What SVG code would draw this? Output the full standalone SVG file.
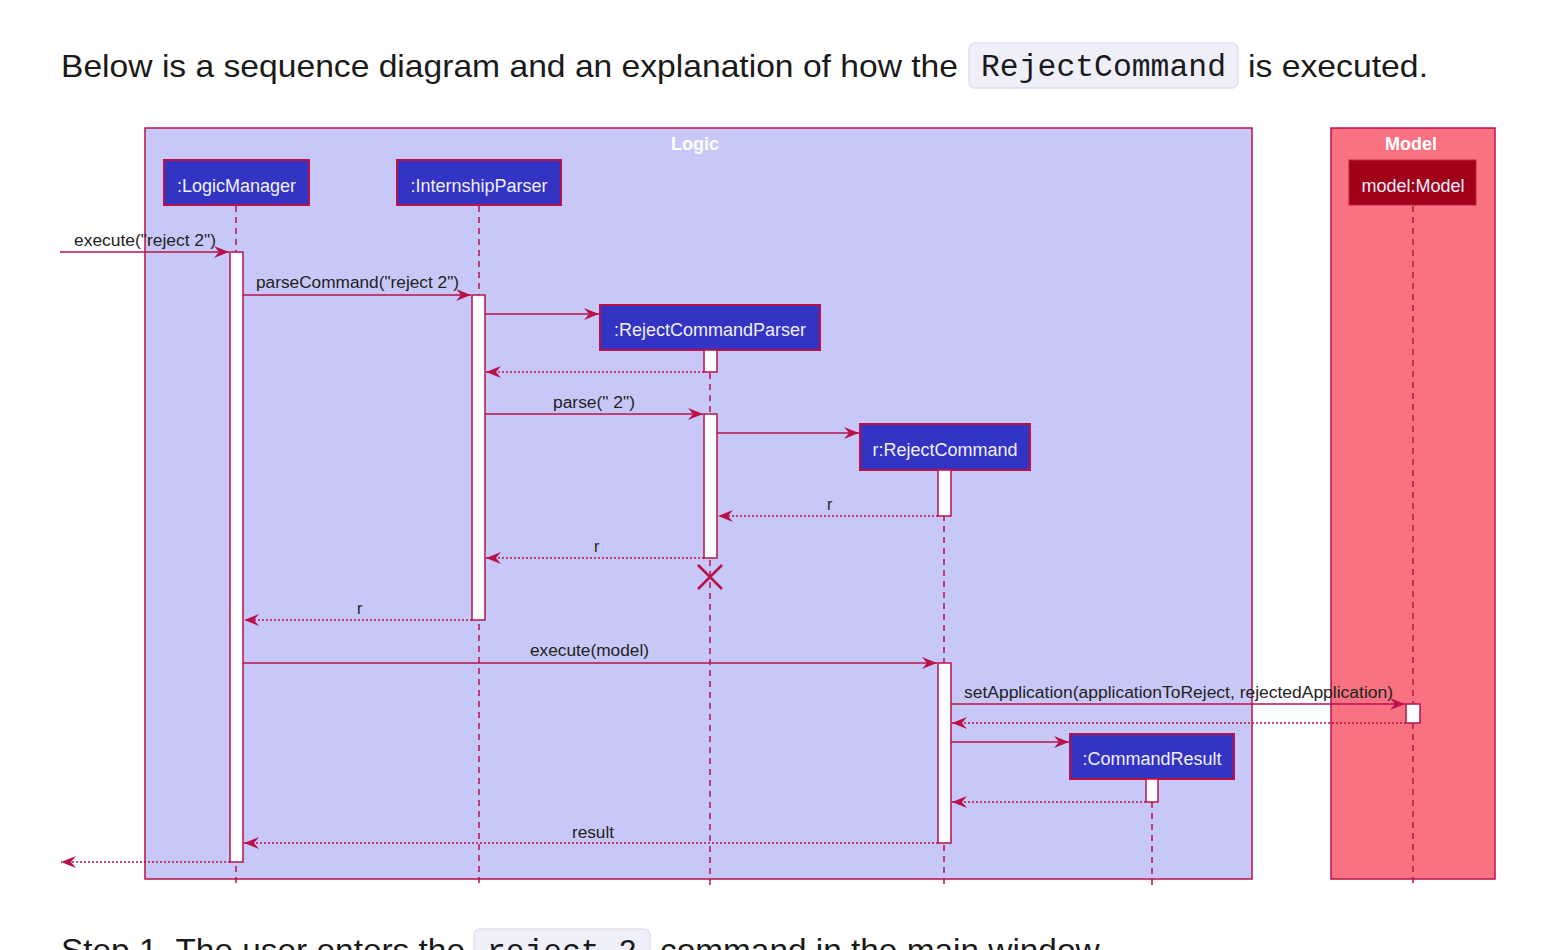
<svg xmlns="http://www.w3.org/2000/svg" width="1554" height="950" viewBox="0 0 1554 950">
<style>
.doc{font-family:"Liberation Sans",Arial,sans-serif;font-size:32px;fill:#1a1a1a}
.code{font-family:"Liberation Mono","DejaVu Sans Mono",monospace;font-size:31px;fill:#1a1a1a}
.codebox{fill:#efeffa;stroke:#e0e0ee;stroke-width:1.5}
.box{stroke:#b8124a;stroke-width:1.5}
.ptext{font-family:"Liberation Sans",Arial,sans-serif;font-size:18px;fill:#f0f0ff;text-anchor:middle}
.title{font-family:"Liberation Sans",Arial,sans-serif;font-size:18px;font-weight:bold;fill:#ffffff;text-anchor:middle}
.life{stroke:#b8124a;stroke-width:1.5;stroke-dasharray:6 5;fill:none}
.act{fill:#ffffff;stroke:#b8124a;stroke-width:1.5}
.msg{stroke:#b8124a;stroke-width:1.5;fill:none}
.ret{stroke:#b8124a;stroke-width:1.5;stroke-dasharray:2 2;fill:none}
.lbl{font-family:"Liberation Sans",Arial,sans-serif;font-size:16px;fill:#222222}
.part{fill:#3333c4;stroke:#b8124a;stroke-width:2}
</style>
<defs>
<marker id="ah" markerWidth="18" markerHeight="14" refX="16" refY="7" orient="auto" markerUnits="userSpaceOnUse">
<path d="M1,1 L16,7 L1,13 L6,7 Z" fill="#b8124a"/>
</marker>
</defs>
<rect x="0" y="0" width="1554" height="950" fill="#ffffff"/>

<g id="header">
<text class="doc" x="61" y="77" textLength="897" lengthAdjust="spacingAndGlyphs">Below is a sequence diagram and an explanation of how the</text>
<rect class="codebox" x="969" y="43" width="269" height="45" rx="6"/>
<text class="code" x="981" y="76" textLength="245" lengthAdjust="spacingAndGlyphs">RejectCommand</text>
<text class="doc" x="1248" y="77" textLength="180" lengthAdjust="spacingAndGlyphs">is executed.</text>
</g>

<g id="footer">
<text class="doc" x="61" y="961" textLength="404" lengthAdjust="spacingAndGlyphs">Step 1. The user enters the</text>
<rect class="codebox" x="474" y="929" width="176" height="45" rx="6"/>
<text class="code" x="487" y="961" textLength="150" lengthAdjust="spacingAndGlyphs">reject 2</text>
<text class="doc" x="660" y="961" textLength="447" lengthAdjust="spacingAndGlyphs">command in the main window.</text>
</g>

<g id="logic-box">
<rect class="box" x="145" y="128" width="1107" height="751" fill="#c8c8f8"/>
<text class="title" x="695" y="150">Logic</text>
</g>
<g id="model-box">
<rect class="box" x="1331" y="128" width="164" height="751" fill="#f97282"/>
<text class="title" x="1411" y="150">Model</text>
</g>

<g id="lifelines">
<line class="life" x1="236" y1="206" x2="236" y2="884"/>
<line class="life" x1="479" y1="206" x2="479" y2="884"/>
<line class="life" x1="710" y1="351" x2="710" y2="888"/>
<line class="life" x1="944" y1="471" x2="944" y2="888"/>
<line class="life" x1="1152" y1="780" x2="1152" y2="888"/>
<line class="life" x1="1413" y1="206" x2="1413" y2="884"/>
</g>

<g id="LogicManager">
<rect class="part" x="164" y="160" width="145" height="45"/>
<text class="ptext" x="236.5" y="192">:LogicManager</text>
<rect class="act" x="230" y="252" width="13" height="610"/>
</g>
<g id="InternshipParser">
<rect class="part" x="397" y="160" width="164" height="45"/>
<text class="ptext" x="479" y="192">:InternshipParser</text>
<rect class="act" x="472" y="295" width="13" height="325"/>
</g>
<g id="RejectCommandParser">
<rect class="part" x="600" y="305" width="220" height="45"/>
<text class="ptext" x="710" y="336">:RejectCommandParser</text>
<rect class="act" x="704" y="350" width="13" height="22"/>
<rect class="act" x="704" y="414" width="13" height="144"/>
<path d="M698,565 L722,589 M722,565 L698,589" stroke="#b8124a" stroke-width="2.5" fill="none"/>
</g>
<g id="RejectCommand">
<rect class="part" x="860" y="424" width="170" height="46"/>
<text class="ptext" x="945" y="456">r:RejectCommand</text>
<rect class="act" x="938" y="470" width="13" height="46"/>
<rect class="act" x="938" y="663" width="13" height="180"/>
</g>
<g id="CommandResult">
<rect class="part" x="1070" y="734" width="164" height="45"/>
<text class="ptext" x="1152" y="765">:CommandResult</text>
<rect class="act" x="1146" y="779" width="12" height="23"/>
</g>
<g id="Model">
<rect x="1349" y="160" width="127" height="45" fill="#a00018" stroke="#c0204a" stroke-width="1"/>
<text class="ptext" x="1413" y="192">model:Model</text>
<rect class="act" x="1406" y="704" width="14" height="19"/>
</g>

<g id="connectors">
<line class="msg" x1="60" y1="252" x2="229" y2="252" marker-end="url(#ah)"/>
<text class="lbl" x="74" y="246" textLength="142" lengthAdjust="spacingAndGlyphs">execute("reject 2")</text>
<line class="msg" x1="243" y1="295" x2="471" y2="295" marker-end="url(#ah)"/>
<text class="lbl" x="256" y="288" textLength="203" lengthAdjust="spacingAndGlyphs">parseCommand("reject 2")</text>
<line class="msg" x1="485" y1="314" x2="599" y2="314" marker-end="url(#ah)"/>
<line class="ret" x1="704" y1="372" x2="486" y2="372" marker-end="url(#ah)"/>
<line class="msg" x1="485" y1="414" x2="703" y2="414" marker-end="url(#ah)"/>
<text class="lbl" x="553" y="408" textLength="82" lengthAdjust="spacingAndGlyphs">parse(" 2")</text>
<line class="msg" x1="717" y1="433" x2="859" y2="433" marker-end="url(#ah)"/>
<line class="ret" x1="938" y1="516" x2="718" y2="516" marker-end="url(#ah)"/>
<text class="lbl" x="827" y="510">r</text>
<line class="ret" x1="704" y1="558" x2="486" y2="558" marker-end="url(#ah)"/>
<text class="lbl" x="594" y="552">r</text>
<line class="ret" x1="472" y1="620" x2="244" y2="620" marker-end="url(#ah)"/>
<text class="lbl" x="357" y="614">r</text>
<line class="msg" x1="243" y1="663" x2="937" y2="663" marker-end="url(#ah)"/>
<text class="lbl" x="530" y="656" textLength="119" lengthAdjust="spacingAndGlyphs">execute(model)</text>
<line class="msg" x1="951" y1="704" x2="1405" y2="704" marker-end="url(#ah)"/>
<text class="lbl" x="964" y="698" textLength="429" lengthAdjust="spacingAndGlyphs">setApplication(applicationToReject, rejectedApplication)</text>
<line class="ret" x1="1406" y1="723" x2="952" y2="723" marker-end="url(#ah)"/>
<line class="msg" x1="951" y1="742" x2="1069" y2="742" marker-end="url(#ah)"/>
<line class="ret" x1="1146" y1="802" x2="952" y2="802" marker-end="url(#ah)"/>
<line class="ret" x1="938" y1="843" x2="244" y2="843" marker-end="url(#ah)"/>
<text class="lbl" x="572" y="838" textLength="42" lengthAdjust="spacingAndGlyphs">result</text>
<line class="ret" x1="230" y1="862" x2="61" y2="862" marker-end="url(#ah)"/>
</g>
</svg>
